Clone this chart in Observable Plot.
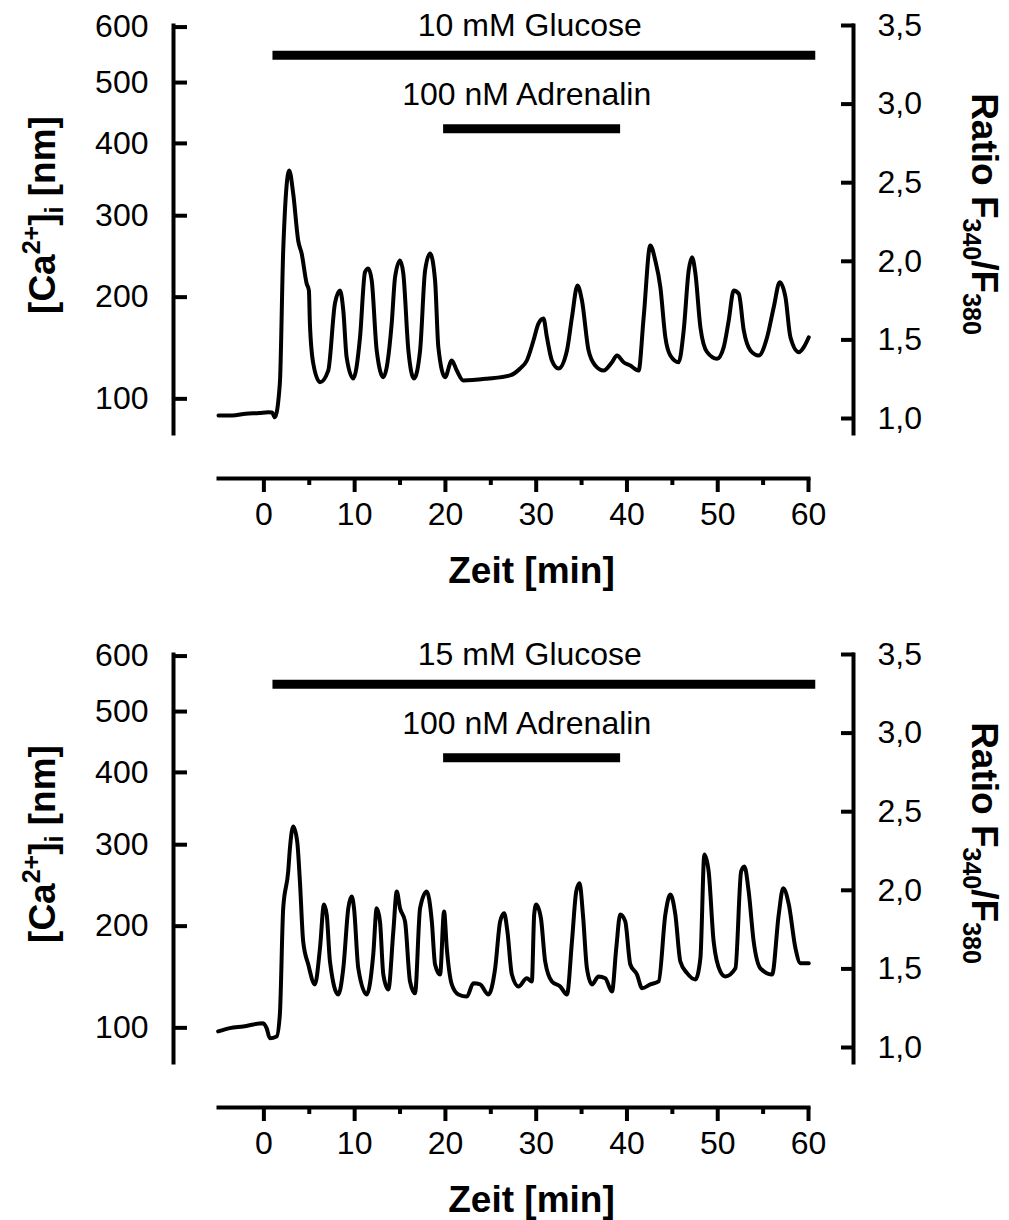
<!DOCTYPE html>
<html><head><meta charset="utf-8">
<script src="https://cdn.jsdelivr.net/npm/d3@7"></script>
<script src="https://cdn.jsdelivr.net/npm/@observablehq/plot@0.6"></script>
<style>
body{margin:0;background:#fff;color:#000;font-family:"Liberation Sans",Arial,sans-serif;}
#chart{width:1009px;}
#chart svg{display:block;}
</style></head><body><div id="chart"></div>
<script>
// ---- data (time in min, fluorescence ratio F340/F380) ----
const timeA = [-5,-3.5,-2,-0.5,0.5,0.9,1.21,1.76,2.13,2.79,3.23,3.78,4.16,4.71,4.96,5.07,5.44,6.18,7.09,7.83,8.38,8.75,9.12,9.85,10.59,11.14,11.5,11.88,12.43,13.16,14.08,14.45,15,15.36,15.92,16.54,17.21,17.76,18.31,18.86,19.22,19.96,20.7,21.25,21.98,24.56,27.13,28.23,28.97,29.7,30.25,30.8,31.18,31.73,32.46,33.39,33.94,34.55,35.04,35.77,36.51,37.42,38.35,38.9,39.63,40.37,41.28,41.84,42.57,43.12,43.68,44.23,44.78,45.69,46.25,46.8,47.17,47.54,48.09,48.83,49.93,50.66,51.21,51.76,52.32,52.87,53.6,54.52,55.44,56.17,56.83,57.46,58.01,58.93,59.48,60.03];
const ratioA = [1.019,1.019,1.03,1.035,1.04,1.038,1.008,1.223,2.069,2.578,2.431,2.132,2.05,1.859,1.814,1.604,1.35,1.231,1.305,1.732,1.814,1.687,1.388,1.254,1.515,1.931,1.954,1.878,1.433,1.263,1.604,1.897,2.005,1.922,1.433,1.254,1.433,1.941,2.05,1.878,1.454,1.263,1.369,1.305,1.242,1.253,1.274,1.318,1.369,1.496,1.604,1.636,1.517,1.369,1.318,1.433,1.644,1.846,1.751,1.433,1.337,1.305,1.358,1.401,1.358,1.337,1.305,1.644,2.101,2.005,1.835,1.517,1.401,1.358,1.56,1.941,2.026,1.922,1.581,1.422,1.38,1.454,1.623,1.814,1.793,1.56,1.433,1.401,1.517,1.708,1.867,1.772,1.517,1.422,1.454,1.517];
const timeB = [-5.04,-3.75,-2.28,-0.08,0.3,0.66,1.4,1.76,2.13,2.68,2.87,3.23,3.67,3.97,4.33,4.89,5.62,6.18,6.62,6.92,7.28,8.19,8.75,9.3,9.67,9.93,10.4,11.33,12.05,12.43,12.79,13.16,13.71,14.26,14.64,15,15.55,16.1,16.65,17.21,17.94,18.5,18.86,19.41,19.85,20.15,20.7,21.43,22.36,23.08,23.82,24.74,25.48,26.03,26.47,26.83,27.32,28.05,28.97,29.52,29.78,30,30.52,30.99,31.73,32.65,33.39,33.94,34.41,34.78,35.15,35.59,36.14,36.87,37.61,38.35,38.82,39.26,39.81,40.37,41.11,41.66,42.57,43.49,44.23,44.78,45.33,45.88,46.62,47.54,48.09,48.53,49,49.55,50.29,50.84,51.95,52.58,52.94,53.41,53.96,54.7,55.99,56.72,57.21,57.83,58.56,59.11,60.03];
const ratioB = [1.102,1.123,1.134,1.155,1.123,1.059,1.07,1.21,1.886,2.12,2.268,2.406,2.31,2.056,1.674,1.528,1.401,1.632,1.91,1.846,1.547,1.337,1.504,1.886,1.961,1.886,1.504,1.337,1.592,1.886,1.802,1.464,1.369,1.738,1.992,1.886,1.802,1.42,1.345,1.886,1.992,1.802,1.528,1.464,1.865,1.632,1.401,1.337,1.324,1.409,1.401,1.337,1.504,1.802,1.854,1.738,1.464,1.388,1.441,1.42,1.846,1.91,1.823,1.547,1.42,1.388,1.337,1.674,1.992,2.045,1.846,1.504,1.401,1.452,1.441,1.356,1.632,1.846,1.802,1.528,1.464,1.377,1.401,1.42,1.846,1.973,1.846,1.547,1.473,1.433,1.568,2.228,2.12,1.674,1.483,1.452,1.504,2.12,2.151,1.992,1.674,1.504,1.464,1.846,2.013,1.91,1.632,1.536,1.536];

// ---- axes / tick labels ----
const ratioTicks = [1, 1.5, 2, 2.5, 3, 3.5];
const caTickLabels = [100, 200, 300, 400, 500, 600];       // [Ca2+]i in nM
const caTickRatio = [1.125, 1.772, 2.29, 2.75, 3.137, 3.49]; // corresponding ratio
const timeTicks = [0, 10, 20, 30, 40, 50, 60];
const timeMinorTicks = [5, 15, 25, 35, 45, 55];

// ---- treatments ----
const glucoseLabels = ["10 mM Glucose", "15 mM Glucose"];
const adrenalinLabel = "100 nM Adrenalin";
const treatmentStart = [1.0, 19.8];
const treatmentEnd = [60.8, 39.3];
const treatmentLevel = [3.31, 2.843];
const treatmentLabelTime = [29.3, 28.95];

const caLabelOf = new Map(caTickRatio.map((r, i) => [r, String(caTickLabels[i])]));

function panel(times, ratios, glucoseLabel, height) {
  const trace = times.map((t, i) => ({t, r: ratios[i]}));
  const labels = [glucoseLabel, adrenalinLabel];
  const treat = labels.map((label, i) => ({label, start: treatmentStart[i], end: treatmentEnd[i], level: treatmentLevel[i], lt: treatmentLabelTime[i]}));
  const svg = Plot.plot({
    width: 1009,
    height,
    marginLeft: 173,
    marginRight: 156,
    marginTop: 25,
    marginBottom: height - 478,
    style: {fontFamily: "'Liberation Sans', Arial, sans-serif", fontSize: "32px", color: "#000", background: "#fff", overflow: "visible"},
    x: {domain: [-5, 60], range: [218, 808]},
    y: {domain: [1, 3.5], range: [418, 25]},
    marks: [
      // axis lines
      Plot.frame({anchor: "left", insetBottom: 45, strokeWidth: 4}),
      Plot.frame({anchor: "right", insetBottom: 45, strokeWidth: 4}),
      Plot.frame({anchor: "bottom", insetLeft: 45, insetRight: 45, strokeWidth: 4}),
      // left [Ca] axis
      Plot.axisY(caTickRatio, {anchor: "left", tickSize: -14, strokeWidth: 4, fill: "none", label: null}),
      Plot.axisY(caTickRatio, {anchor: "left", tickSize: 0, tickPadding: 25, tickFormat: d => caLabelOf.get(d), label: null}),
      // right ratio axis
      Plot.axisY(ratioTicks, {anchor: "right", tickSize: -13, strokeWidth: 4, fill: "none", label: null}),
      Plot.axisY(ratioTicks, {anchor: "right", tickSize: 0, tickPadding: 24, tickFormat: d => d.toFixed(1).replace(".", ","), label: null}),
      // time axis
      Plot.axisX(timeTicks, {anchor: "bottom", tickSize: 14, strokeWidth: 4, tickPadding: 10, label: null}),
      Plot.axisX(timeMinorTicks, {anchor: "bottom", tickSize: 7, strokeWidth: 4, fill: "none", label: null}),
      // treatments
      Plot.ruleY(treat, {y: "level", x1: "start", x2: "end", strokeWidth: 9}),
      Plot.text([treat[0]], {x: "lt", y: "level", text: "label", dy: -30}),
      Plot.text([treat[1]], {x: "lt", y: "level", text: "label", dy: -34}),
      // trace
      Plot.line(trace, {x: "t", y: "r", strokeWidth: 4, strokeLinejoin: "round", curve: "monotone-x"}),
      // axis titles
      Plot.text(["[Ca2+]i [nm]"], {text: d => d, frameAnchor: "left", textAnchor: "middle", lineAnchor: "middle", rotate: -90, dx: -130, dy: -37, fontWeight: "bold", fontSize: 37}),
      Plot.text(["Ratio F340/F380"], {text: d => d, frameAnchor: "right", textAnchor: "middle", lineAnchor: "middle", rotate: 90, dx: 130, dy: -38, fontWeight: "bold", fontSize: 37}),
      Plot.text(["Zeit [min]"], {text: d => d, frameAnchor: "bottom", lineAnchor: "middle", dx: 18, dy: 93, fontWeight: "bold", fontSize: 37})
    ]
  });
  // rich text for super/subscripts
  const rich = (plain, parts) => {
    d3.select(svg).selectAll("text").filter(function() { return this.textContent === plain; }).each(function() {
      const t = d3.select(this);
      t.text(null);
      for (const [s, size, dy] of parts) {
        const ts = t.append("tspan").text(s);
        if (size) ts.attr("font-size", size);
        if (dy) ts.attr("dy", dy);
      }
    });
  };
  rich("[Ca2+]i [nm]", [["[Ca"], ["2+", 25, -15], ["]", null, 15], ["i", 25, 8], [" [nm]", null, -8]]);
  rich("Ratio F340/F380", [["Ratio F"], ["340", 25, 9], ["/F", null, -9], ["380", 25, 9]]);
  return svg;
}

const chart = document.getElementById("chart");
chart.append(panel(timeA, ratioA, glucoseLabels[0], 629));
chart.append(panel(timeB, ratioB, glucoseLabels[1], 591));
</script>
</body></html>
